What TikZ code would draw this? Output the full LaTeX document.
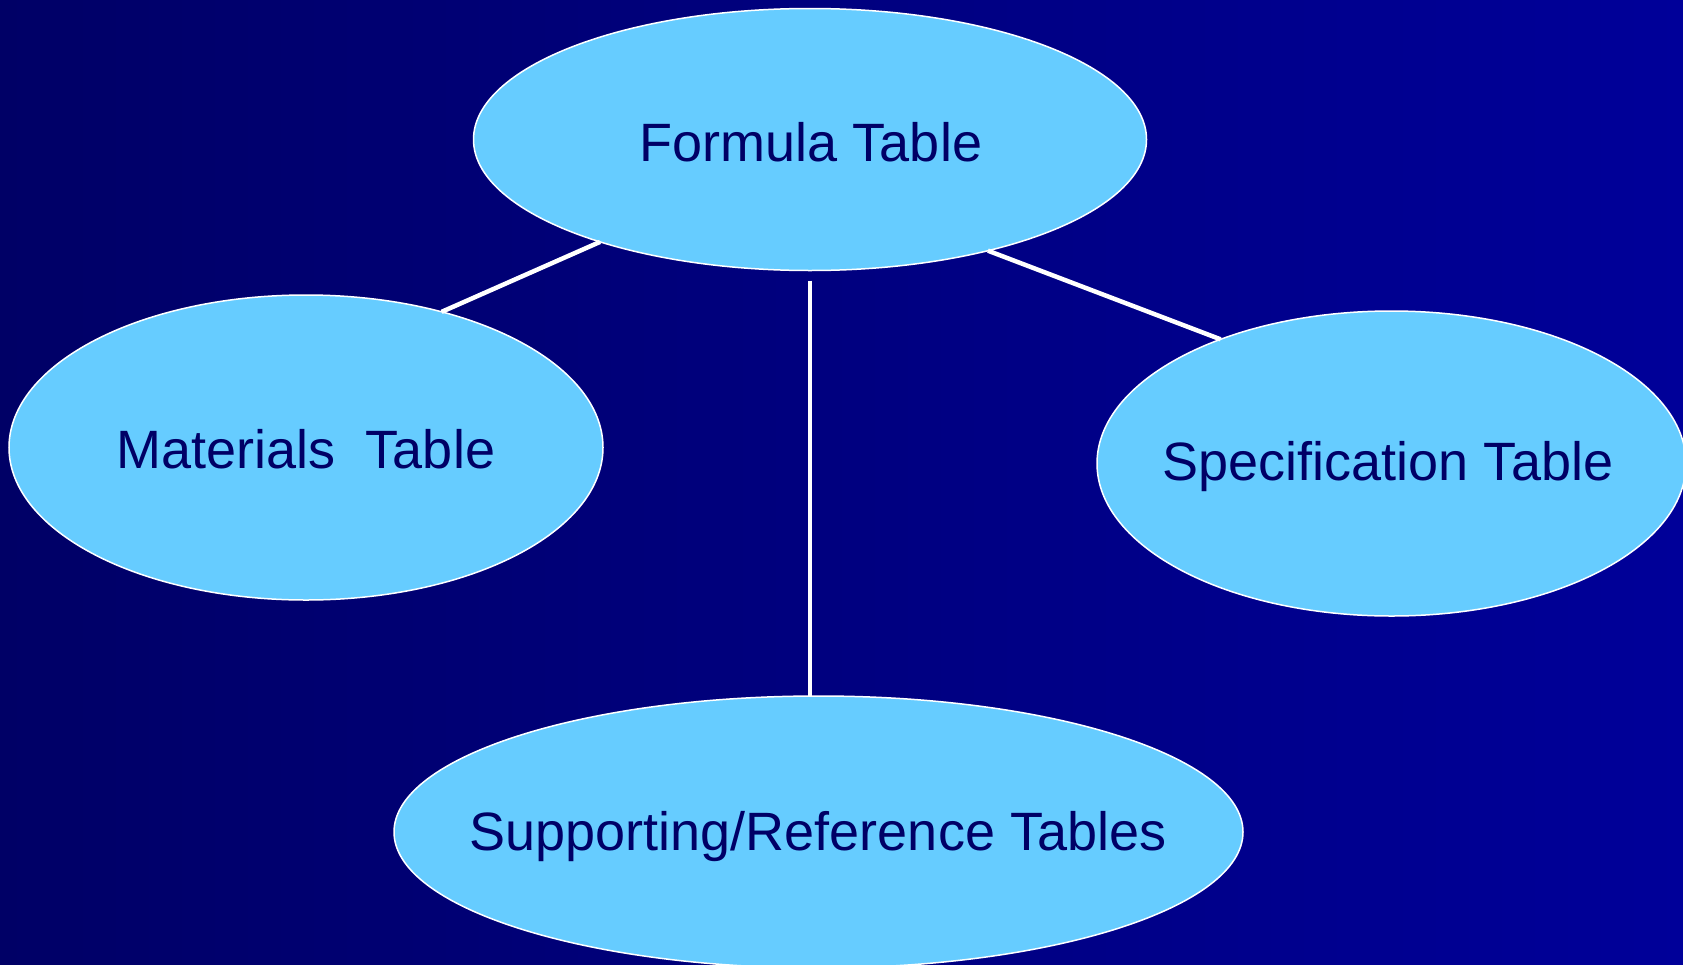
\documentclass[tikz,border=0pt]{standalone}
\usepackage{fontspec}
\setmainfont{Liberation Sans}
\usetikzlibrary{shapes.geometric}
\definecolor{bgleft}{HTML}{000066}
\definecolor{bgright}{HTML}{000099}
\definecolor{ellfill}{HTML}{66CCFF}
\definecolor{txt}{HTML}{000066}
\tikzset{
  tbl/.style={ellipse, draw=white, line width=1.5pt, fill=ellfill, inner sep=0pt, outer sep=0pt},
  lbl/.style={text=txt, font=\fontsize{54}{62}\selectfont},
  link/.style={draw=white, line width=4.5pt}
}
\begin{document}
\begin{tikzpicture}[x=1pt,y=1pt]
\useasboundingbox (0,0) rectangle (1683,-964);
\shade[left color=bgleft, right color=bgright] (0,0) rectangle (1683,-964);
\node[tbl, minimum width=673pt, minimum height=262pt] (form) at (810,-139.5) {};
\node[lbl] (formt) at (811,-142) {Formula Table};
\node[tbl, minimum width=594pt, minimum height=305pt] (mat) at (306,-447.5) {};
\node[lbl] (matt) at (306,-449) {Materials\ \ Table};
\node[tbl, minimum width=589pt, minimum height=305pt] (spec) at (1391.5,-463.5) {};
\node[lbl] (spect) at (1388,-467) {Specification Table};
\node[tbl, minimum width=849pt, minimum height=272pt] (sup) at (818.5,-832) {};
\node[lbl] (supt) at (818,-837) {Supporting/Reference Tables};
\draw[link] (mat.45) -- (form.206.8);
\draw[link] (form.328.5) -- (spec.144);
\draw[link, shorten <=10pt] (form.south) -- (form.south |- sup.north);
\end{tikzpicture}
\end{document}
